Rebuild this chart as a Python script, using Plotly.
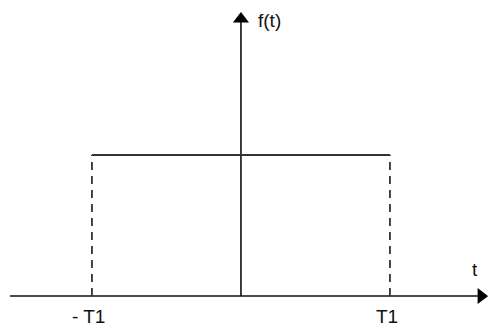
import plotly.graph_objects as go

# Data: rectangular pulse f(t) = 1 for |t| < T1
T1 = 1.0
pulse_t = [-T1, T1]
pulse_f = [1.0, 1.0]
tick_labels = ["- T1", "T1"]
axis_labels = ["t", "f(t)"]

X_RANGE = [-1.617, 1.658]
Y_RANGE = [-0.248, 2.099]

fig = go.Figure()

# horizontal axis
fig.add_trace(go.Scatter(x=[-1.55, 1.62], y=[0, 0], mode="lines",
                         line=dict(color="#111111", width=1.6), hoverinfo="skip"))
fig.add_trace(go.Scatter(x=[1.612], y=[0], mode="markers",
                         marker=dict(symbol="triangle-right", size=14, color="#000000",
                                     line=dict(width=0)), hoverinfo="skip"))
# vertical axis
fig.add_trace(go.Scatter(x=[0, 0], y=[0, 1.95], mode="lines",
                         line=dict(color="#111111", width=1.6), hoverinfo="skip"))
fig.add_trace(go.Scatter(x=[0], y=[1.965], mode="markers",
                         marker=dict(symbol="triangle-up", size=14, color="#000000",
                                     line=dict(width=0)), hoverinfo="skip"))

# pulse top
fig.add_trace(go.Scatter(x=pulse_t, y=pulse_f, mode="lines",
                         line=dict(color="#333333", width=1.8), hoverinfo="skip"))
# dashed verticals
for tv, fv in zip(pulse_t, pulse_f):
    fig.add_trace(go.Scatter(x=[tv, tv], y=[0, fv], mode="lines",
                             line=dict(color="#333333", width=1.8, dash="8px,6px"),
                             hoverinfo="skip"))

font = dict(family="Liberation Sans, Arial, sans-serif", size=19, color="#111111")
for tv, lab in zip(pulse_t, tick_labels):
    fig.add_annotation(x=tv - 0.02, y=-0.142, text=lab, showarrow=False, font=font,
                       xanchor="center", yanchor="middle")
fig.add_annotation(x=1.57, y=0.19, text=axis_labels[0], showarrow=False, font=font,
                   xanchor="center", yanchor="middle")
fig.add_annotation(x=0.10, y=1.955, text=axis_labels[1], showarrow=False, font=font,
                   xanchor="left", yanchor="middle")

fig.update_layout(
    width=488, height=331,
    margin=dict(l=0, r=0, t=0, b=0),
    paper_bgcolor="white", plot_bgcolor="white",
    showlegend=False,
    hovermode=False,
    xaxis=dict(range=X_RANGE, visible=False, fixedrange=True),
    yaxis=dict(range=Y_RANGE, visible=False, fixedrange=True),
)

fig.write_html("out.html", config={"displayModeBar": False, "staticPlot": True},
               post_script="document.body.style.margin='0';document.body.style.overflow='hidden';")
